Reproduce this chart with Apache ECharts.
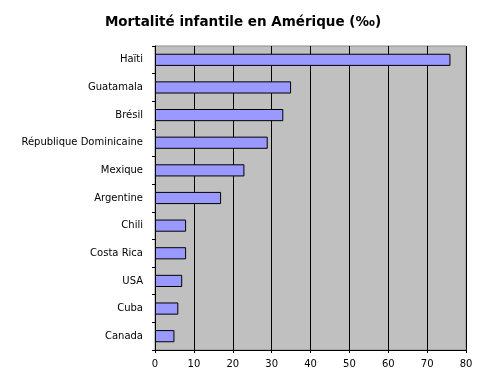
<!DOCTYPE html>
<html><head><meta charset="utf-8">
<script src="https://cdn.jsdelivr.net/npm/echarts@6/dist/echarts.min.js"></script>
<style>html,body{margin:0;padding:0;background:#fff}#c{width:486px;height:384px}</style>
</head><body><div id="c"></div>
<script>
const titleText = 'Mortalité infantile en Amérique (‰)';
const countries = ['Haïti','Guatamala','Brésil','République Dominicaine','Mexique','Argentine','Chili','Costa Rica','USA','Cuba','Canada'];
const mortality = [76,35,33,29,23,17,8,8,7,6,5];
const xTicks = {min:0, max:80, interval:10};

const chart = echarts.init(document.getElementById('c'), null, {renderer:'canvas'});
chart.setOption({
  animation:false,
  backgroundColor:'#fff',
  title:{text:titleText, left:'center', top:10,
    textStyle:{fontFamily:'DejaVu Sans', fontWeight:'bold', fontSize:13.5, color:'#000'}},
  grid:{left:155, right:20, top:46, bottom:34, show:true, backgroundColor:'#c0c0c0', borderColor:'#8c8c8c', borderWidth:1},
  xAxis:{type:'value', min:xTicks.min, max:xTicks.max, interval:xTicks.interval,
    axisLine:{show:true, lineStyle:{color:'#000', width:1}},
    axisTick:{show:true, length:3, lineStyle:{color:'#000'}},
    axisLabel:{fontFamily:'DejaVu Sans', fontSize:10, color:'#000', margin:9},
    splitLine:{show:true, lineStyle:{color:'#000', width:1}}},
  yAxis:{type:'category', data:countries, inverse:true,
    axisLine:{show:true, lineStyle:{color:'#000', width:1}},
    axisTick:{show:true, length:3, lineStyle:{color:'#000'}},
    axisLabel:{fontFamily:'DejaVu Sans', fontSize:10, color:'#000', margin:12},
    splitLine:{show:false}},
  series:[{type:'bar', data:mortality, barCategoryGap:'56%',
    itemStyle:{color:'#9999ff', borderColor:'#000', borderWidth:1}}]
});
</script></body></html>
